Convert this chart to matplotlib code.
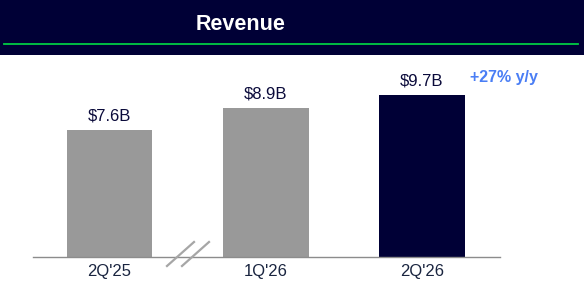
import matplotlib.pyplot as plt
from matplotlib.lines import Line2D
from matplotlib.patches import Rectangle

plt.rcParams['font.family'] = ['Liberation Sans', 'DejaVu Sans']

quarters = ["2Q'25", "1Q'26", "2Q'26"]
revenue = [7.6, 8.9, 9.7]
value_labels = ['$7.6B', '$8.9B', '$9.7B']
growth_label = '+27% y/y'

navy = '#000036'
grey = '#999999'
colors = [grey, grey, navy]

W, H = 584, 294
fig = plt.figure(figsize=(W / 100, H / 100), dpi=100, facecolor='white')

# header band
fig.patches.append(Rectangle((0, 1 - 55 / H), 1, 55 / H, transform=fig.transFigure,
                             facecolor=navy, edgecolor='none', zorder=0))
fig.lines.append(Line2D([4 / W, 578 / W], [1 - 44 / H] * 2, transform=fig.transFigure,
                        color='#00cc44', lw=1.3))
fig.text(241 / W, 1 - 24 / H, 'Revenue', color='white', fontsize=15.5, fontweight='bold',
         ha='center', va='center')

ax = fig.add_axes([33 / W, 37 / H, (500 - 33) / W, (257 - 60) / H])
x = range(len(quarters))
bars = ax.bar(x, revenue, width=0.55, color=colors)
ax.set_xlim(-0.49, 2.5)
ax.set_ylim(0, 11.8)
for b, lab in zip(bars, value_labels):
    ax.text(b.get_x() + b.get_width() / 2, b.get_height() + 0.42, lab, ha='center', va='bottom',
            fontsize=12, color='#0a0a3a')
ax.text(bars[2].get_x() + bars[2].get_width() + 0.03, revenue[2] + 0.62, growth_label,
        ha='left', va='bottom', fontsize=11.5, fontweight='bold', color='#4a7ef5')

ax.set_xticks(list(x))
ax.set_xticklabels(quarters, fontsize=12, color='#1a2540')
ax.tick_params(axis='x', length=0, pad=5)
ax.set_yticks([])
for s in ['top', 'right', 'left']:
    ax.spines[s].set_visible(False)
ax.spines['bottom'].set_color('#8c8c8c')
ax.spines['bottom'].set_linewidth(1)
ax.patch.set_alpha(0)

# axis break marks
for x0 in (167, 182):
    fig.lines.append(Line2D([x0 / W, (x0 + 27) / W], [1 - 266 / H, 1 - 242 / H],
                            transform=fig.transFigure, color='#a6a6a6', lw=1.6))

fig.savefig('out.png', dpi=100)
